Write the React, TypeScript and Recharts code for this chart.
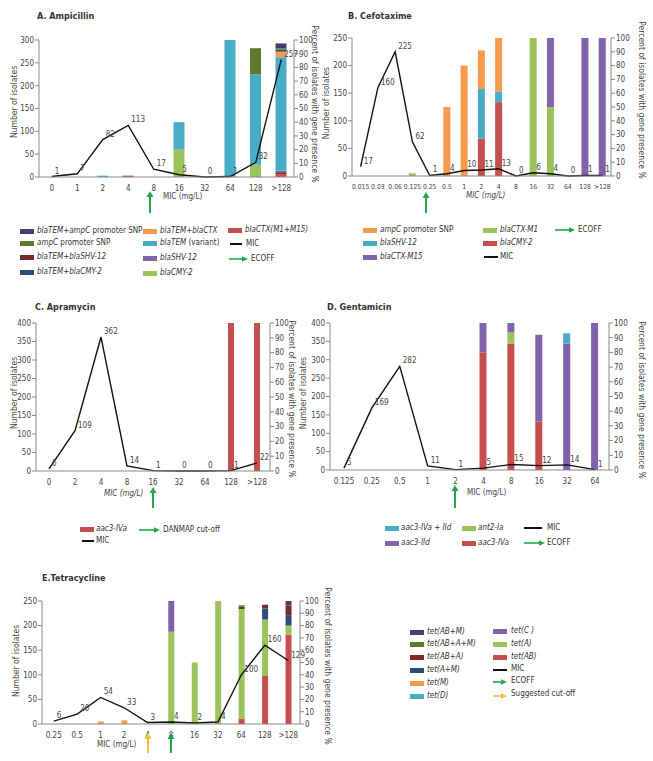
import React from 'react';
import { ComposedChart, Bar, Line, XAxis, YAxis, LabelList } from 'recharts';

const FONT = "'Liberation Sans Narrow', 'DejaVu Sans Condensed', 'Open Sans', sans-serif";
const TXT = '#444';
const GREEN = '#22a84a';
const YELLOW = '#f4c03c';

// colours shared by the gene groups
const C = {
  darkPurple: '#4b3c6b',
  olive: '#5f7a2c',
  darkRed: '#7a2a2d',
  darkBlue: '#2d4e78',
  orange: '#f49b4c',
  blue: '#47adc7',
  purple: '#8063aa',
  green: '#9cc25b',
  red: '#c64f4d',
};

// ---------- A. Ampicillin ----------
const ampCats = ['0', '1', '2', '4', '8', '16', '32', '64', '128', '>128'];
const ampMic = [1, 7, 82, 113, 17, 5, 0, 1, 32, 257];
const ampCTX = [0, 0, 0, 1, 0, 0, 0, 0, 0, 2];
const ampTEMSHV = [0, 0, 0, 0, 0, 0, 0, 0, 0, 1.5];
const ampSHV = [0, 0, 0, 0, 0, 0, 0, 0, 0, 1];
const ampCMY = [0, 0, 0, 0, 0, 20, 0, 0, 9, 0];
const ampTEMvar = [0, 0, 1, 0, 0, 20, 0, 100, 66, 83];
const ampTEMCTX = [0, 0, 0, 0, 0, 0, 0, 0, 0, 4];
const ampTEMCMY = [0, 0, 0, 0, 0, 0, 0, 0, 0, 1.5];
const ampSNP = [0, 0, 0, 0, 0, 0, 0, 0, 19, 1];
const ampTEMSNP = [0, 0, 0, 0, 0, 0, 0, 0, 0, 3.5];

// ---------- B. Cefotaxime ----------
const cefCats = ['0.015', '0.03', '0.06', '0.125', '0.25', '0.5', '1', '2', '4', '8', '16', '32', '64', '128', '>128'];
const cefMic = [17, 160, 225, 62, 1, 4, 10, 11, 13, 0, 6, 4, 0, 1, 1];
const cefCMY = [0, 0, 0, 0, 0, 0, 0, 27, 53.5, 0, 0, 0, 0, 0, 0];
const cefM1 = [0, 0, 0, 2, 0, 0, 0, 0, 0, 0, 100, 50, 0, 0, 0];
const cefM15 = [0, 0, 0, 0, 0, 0, 0, 0, 0, 0, 0, 50, 0, 100, 100];
const cefSHV = [0, 0, 0, 0, 0, 0, 0, 36, 7.5, 0, 0, 0, 0, 0, 0];
const cefSNP = [0, 0, 0, 0, 0, 50, 80, 28, 39, 0, 0, 0, 0, 0, 0];

// ---------- C. Apramycin ----------
const aprCats = ['0', '2', '4', '8', '16', '32', '64', '128', '>128'];
const aprMic = [6, 109, 362, 14, 1, 0, 0, 1, 22];
const aprIVa = [0, 0, 0, 0, 0, 0, 0, 100, 100];

// ---------- D. Gentamicin ----------
const genCats = ['0.125', '0.25', '0.5', '1', '2', '4', '8', '16', '32', '64'];
const genMic = [5, 169, 282, 11, 1, 5, 15, 12, 14, 1];
const genIVa = [0, 0, 0, 0, 0, 80, 86, 33, 0, 0];
const genAnt = [0, 0, 0, 0, 0, 0, 7.5, 0, 0, 0];
const genIId = [0, 0, 0, 0, 0, 20, 6.5, 59, 86, 100];
const genIVaIId = [0, 0, 0, 0, 0, 0, 0, 0, 7, 0];

// ---------- E. Tetracycline ----------
const tetCats = ['0.25', '0.5', '1', '2', '4', '8', '16', '32', '64', '128', '>128'];
const tetMic = [6, 20, 54, 33, 3, 4, 2, 4, 100, 160, 129];
const tetAB = [0, 0, 0, 0, 0, 0, 0, 0, 4.5, 39, 72.5];
const tetM = [0, 0, 2, 3, 0, 0, 0, 0, 0, 0, 0];
const tetA = [0, 0, 0, 0, 0, 75, 50, 100, 89, 46, 7.5];
const tetC = [0, 0, 0, 0, 0, 25, 0, 0, 0, 0, 0];
const tetD = [0, 0, 0, 0, 0, 0, 0, 0, 0, 0, 0];
const tetAM = [0, 0, 0, 0, 0, 0, 0, 0, 0, 9, 8.5];
const tetABA = [0, 0, 0, 0, 0, 0, 0, 0, 2, 3, 8];
const tetABAM = [0, 0, 0, 0, 0, 0, 0, 0, 1, 0, 0];
const tetABM = [0, 0, 0, 0, 0, 0, 0, 0, 0, 0, 3.5];

const pctTicks = [0, 10, 20, 30, 40, 50, 60, 70, 80, 90, 100];
const ticks250 = [0, 50, 100, 150, 200, 250];
const ticks300 = [0, 50, 100, 150, 200, 250, 300];
const ticks400 = [0, 50, 100, 150, 200, 250, 300, 350, 400];

type Series = { key: string; values: number[]; color: string };

const buildRows = (cats: string[], mic: number[], series: Series[]) =>
  cats.map((c, i) => {
    const row: Record<string, any> = { cat: c, mic: mic[i] };
    series.forEach((s) => (row[s.key] = s.values[i]));
    return row;
  });

const micLabel = (props: any) => {
  const { x, y, value } = props;
  return (
    <text x={x + 3} y={y - 3} fontSize={8} fill={TXT} fontFamily={FONT}>
      {value}
    </text>
  );
};

const LW = 30;
const RW = 26;
const XH = 16;
const MT = 6;

type PanelProps = {
  cats: string[];
  mic: number[];
  series: Series[];
  yMax: number;
  yTicks: number[];
  barSize: number;
  plot: { l: number; r: number; t: number; b: number };
  catFont?: number;
};

const Panel = ({ cats, mic, series, yMax, yTicks, barSize, plot, catFont = 8 }: PanelProps) => {
  const data = buildRows(cats, mic, series);
  const tick = { fontSize: 8, fill: TXT, fontFamily: FONT };
  return (
    <div style={{ position: 'absolute', left: plot.l - LW, top: plot.t - MT }}>
      <ComposedChart
        width={plot.r - plot.l + LW + RW}
        height={plot.b - plot.t + MT + XH}
        data={data}
        margin={{ top: MT, right: 0, left: 0, bottom: 0 }}
      >
        <XAxis
          dataKey="cat"
          interval={0}
          tickLine={false}
          axisLine={{ stroke: '#888' }}
          tick={{ ...tick, fontSize: catFont }}
          height={XH}
          tickMargin={2}
        />
        <YAxis
          yAxisId="n"
          domain={[0, yMax]}
          ticks={yTicks}
          width={LW}
          tickSize={4}
          tickMargin={1}
          axisLine={{ stroke: '#888' }}
          tickLine={{ stroke: '#888' }}
          tick={tick}
          interval={0}
        />
        <YAxis
          yAxisId="pct"
          orientation="right"
          domain={[0, 100]}
          ticks={pctTicks}
          width={RW}
          tickSize={4}
          tickMargin={1}
          axisLine={{ stroke: '#888' }}
          tickLine={{ stroke: '#888' }}
          tick={tick}
          interval={0}
        />
        {series.map((s) => (
          <Bar
            key={s.key}
            yAxisId="pct"
            dataKey={s.key}
            stackId="g"
            fill={s.color}
            barSize={barSize}
            isAnimationActive={false}
          />
        ))}
        <Line
          yAxisId="n"
          dataKey="mic"
          type="linear"
          stroke="#111"
          strokeWidth={1.4}
          dot={false}
          isAnimationActive={false}
        >
          <LabelList dataKey="mic" content={micLabel} />
        </Line>
      </ComposedChart>
    </div>
  );
};

const UpArrow = ({ x, tip, bottom, color }: { x: number; tip: number; bottom: number; color: string }) => (
  <g>
    <line x1={x} y1={bottom} x2={x} y2={tip + 5} stroke={color} strokeWidth={2} />
    <polygon points={`${x},${tip} ${x - 3.5},${tip + 6} ${x + 3.5},${tip + 6}`} fill={color} />
  </g>
);

const RightArrow = ({ x1, x2, y, color }: { x1: number; x2: number; y: number; color: string }) => (
  <g>
    <line x1={x1} y1={y} x2={x2 - 5} y2={y} stroke={color} strokeWidth={1.6} />
    <polygon points={`${x2},${y} ${x2 - 6},${y - 2.8} ${x2 - 6},${y + 2.8}`} fill={color} />
  </g>
);

const Swatch = ({ x, y, color }: { x: number; y: number; color: string }) => (
  <div style={{ position: 'absolute', left: x, top: y - 2.5, width: 14, height: 5, background: color }} />
);

const LineSwatch = ({ x, y, w = 12 }: { x: number; y: number; w?: number }) => (
  <div style={{ position: 'absolute', left: x, top: y - 0.75, width: w, height: 1.5, background: '#111' }} />
);

const Txt = ({ x, y, children }: { x: number; y: number; children: React.ReactNode }) => (
  <div
    style={{
      position: 'absolute',
      left: x,
      top: y - 5,
      fontSize: 8,
      lineHeight: '10px',
      color: '#333',
      whiteSpace: 'nowrap',
      fontFamily: FONT,
    }}
  >
    {children}
  </div>
);

const VText = ({ x, y, text, up }: { x: number; y: number; text: string; up?: boolean }) => (
  <text
    x={x}
    y={y}
    transform={`rotate(${up ? -90 : 90} ${x} ${y})`}
    textAnchor="middle"
    dominantBaseline="middle"
    fontSize={8.5}
    fill={TXT}
    fontFamily={FONT}
  >
    {text}
  </text>
);

const Title = ({ x, y, text }: { x: number; y: number; text: string }) => (
  <text x={x} y={y} fontSize={9} fontWeight="bold" fill="#333" fontFamily={FONT}>
    {text}
  </text>
);

const MicTitle = ({ x, y, italic }: { x: number; y: number; italic?: boolean }) => (
  <text x={x} y={y} fontSize={8} fill={TXT} fontFamily={FONT} fontStyle={italic ? 'italic' : 'normal'}>
    MIC (mg/L)
  </text>
);

const PCT = 'Percent of isolates with gene presence %';
const NUM = 'Number of isolates';

export default function App() {
  const ampSeries: Series[] = [
    { key: 'ctx', values: ampCTX, color: C.red },
    { key: 'temshv', values: ampTEMSHV, color: C.darkRed },
    { key: 'shv', values: ampSHV, color: C.purple },
    { key: 'cmy', values: ampCMY, color: C.green },
    { key: 'temvar', values: ampTEMvar, color: C.blue },
    { key: 'temctx', values: ampTEMCTX, color: C.orange },
    { key: 'temcmy', values: ampTEMCMY, color: C.darkBlue },
    { key: 'snp', values: ampSNP, color: C.olive },
    { key: 'temsnp', values: ampTEMSNP, color: C.darkPurple },
  ];
  const cefSeries: Series[] = [
    { key: 'cmy', values: cefCMY, color: C.red },
    { key: 'm1', values: cefM1, color: C.green },
    { key: 'm15', values: cefM15, color: C.purple },
    { key: 'shv', values: cefSHV, color: C.blue },
    { key: 'snp', values: cefSNP, color: C.orange },
  ];
  const aprSeries: Series[] = [{ key: 'iva', values: aprIVa, color: C.red }];
  const genSeries: Series[] = [
    { key: 'iva', values: genIVa, color: C.red },
    { key: 'ant', values: genAnt, color: C.green },
    { key: 'iid', values: genIId, color: C.purple },
    { key: 'ivaiid', values: genIVaIId, color: C.blue },
  ];
  const tetSeries: Series[] = [
    { key: 'ab', values: tetAB, color: C.red },
    { key: 'm', values: tetM, color: C.orange },
    { key: 'a', values: tetA, color: C.green },
    { key: 'c', values: tetC, color: C.purple },
    { key: 'd', values: tetD, color: C.blue },
    { key: 'am', values: tetAM, color: C.darkBlue },
    { key: 'aba', values: tetABA, color: C.darkRed },
    { key: 'abam', values: tetABAM, color: C.olive },
    { key: 'abm', values: tetABM, color: C.darkPurple },
  ];

  return (
    <div
      style={{
        position: 'absolute',
        left: 0,
        top: 0,
        width: 653,
        height: 761,
        background: '#fff',
        fontFamily: FONT,
        overflow: 'hidden',
      }}
    >
      <Panel cats={ampCats} mic={ampMic} series={ampSeries} yMax={300} yTicks={ticks300} barSize={11} plot={{ l: 39, r: 294, t: 40, b: 177 }} />
      <Panel cats={cefCats} mic={cefMic} series={cefSeries} yMax={250} yTicks={ticks250} barSize={7} plot={{ l: 352, r: 611, t: 38, b: 176 }} catFont={6.8} />
      <Panel cats={aprCats} mic={aprMic} series={aprSeries} yMax={400} yTicks={ticks400} barSize={6} plot={{ l: 36, r: 270, t: 323, b: 471 }} />
      <Panel cats={genCats} mic={genMic} series={genSeries} yMax={400} yTicks={ticks400} barSize={7} plot={{ l: 330, r: 609, t: 323, b: 470 }} />
      <Panel cats={tetCats} mic={tetMic} series={tetSeries} yMax={250} yTicks={ticks250} barSize={6} plot={{ l: 42, r: 300, t: 601, b: 724 }} />

      <svg width={653} height={761} style={{ position: 'absolute', left: 0, top: 0, pointerEvents: 'none' }}>
        <Title x={37} y={19} text="A. Ampicillin" />
        <Title x={348} y={19} text="B. Cefotaxime" />
        <Title x={35} y={310} text="C. Apramycin" />
        <Title x={327} y={310} text="D. Gentamicin" />
        <Title x={42} y={581} text="E.Tetracycline" />

        <VText x={14} y={102} text={NUM} up />
        <VText x={326} y={103} text={NUM} up />
        <VText x={14} y={393} text={NUM} up />
        <VText x={303} y={393} text={NUM} up />
        <VText x={16} y={661} text={NUM} up />

        <VText x={314} y={104} text={PCT} />
        <VText x={641} y={100} text={PCT} />
        <VText x={291} y={399} text={PCT} />
        <VText x={641} y={400} text={PCT} />
        <VText x={327} y={666} text={PCT} />

        <MicTitle x={163} y={199} />
        <MicTitle x={466} y={198} italic />
        <MicTitle x={104} y={496} italic />
        <MicTitle x={467} y={495} />
        <MicTitle x={97} y={747} />

        <UpArrow x={150} tip={191} bottom={213} color={GREEN} />
        <UpArrow x={426} tip={192} bottom={213} color={GREEN} />
        <UpArrow x={153} tip={487} bottom={508} color={GREEN} />
        <UpArrow x={455} tip={485} bottom={508} color={GREEN} />
        <UpArrow x={148} tip={733} bottom={753} color={YELLOW} />
        <UpArrow x={171} tip={733} bottom={753} color={GREEN} />

        {/* legend arrows */}
        <RightArrow x1={229} x2={248} y={259} color={GREEN} />
        <RightArrow x1={555} x2={575} y={230} color={GREEN} />
        <RightArrow x1={139} x2={160} y={530} color={GREEN} />
        <RightArrow x1={524} x2={545} y={543} color={GREEN} />
        <RightArrow x1={493} x2={507} y={682} color={GREEN} />
        <RightArrow x1={493} x2={507} y={696} color={YELLOW} />
      </svg>

      {/* A legend */}
      <Swatch x={20} y={231} color={C.darkPurple} />
      <Txt x={37} y={231}><i>blaTEM+ampC</i> promoter SNP</Txt>
      <Swatch x={20} y={243} color={C.olive} />
      <Txt x={37} y={243}><i>ampC</i> promoter SNP</Txt>
      <Swatch x={20} y={257} color={C.darkRed} />
      <Txt x={37} y={257}><i>blaTEM+blaSHV-12</i></Txt>
      <Swatch x={20} y={272} color={C.darkBlue} />
      <Txt x={37} y={272}><i>blaTEM+blaCMY-2</i></Txt>
      <Swatch x={143} y={231} color={C.orange} />
      <Txt x={160} y={231}><i>blaTEM+blaCTX</i></Txt>
      <Swatch x={143} y={243} color={C.blue} />
      <Txt x={160} y={243}><i>blaTEM</i> (variant)</Txt>
      <Swatch x={143} y={258} color={C.purple} />
      <Txt x={160} y={258}><i>blaSHV-12</i></Txt>
      <Swatch x={143} y={273} color={C.green} />
      <Txt x={160} y={273}><i>blaCMY-2</i></Txt>
      <Swatch x={228} y={230} color={C.red} />
      <Txt x={245} y={230}><i>blaCTX(M1+M15)</i></Txt>
      <LineSwatch x={230} y={244} />
      <Txt x={246} y={244}>MIC</Txt>
      <Txt x={251} y={259}>ECOFF</Txt>

      {/* B legend */}
      <Swatch x={363} y={230} color={C.orange} />
      <Txt x={380} y={230}><i>ampC</i> promoter SNP</Txt>
      <Swatch x={363} y={243} color={C.blue} />
      <Txt x={380} y={243}><i>blaSHV-12</i></Txt>
      <Swatch x={363} y={257} color={C.purple} />
      <Txt x={380} y={257}><i>blaCTX-M15</i></Txt>
      <Swatch x={483} y={230} color={C.green} />
      <Txt x={500} y={230}><i>blaCTX-M1</i></Txt>
      <Swatch x={483} y={243} color={C.red} />
      <Txt x={500} y={243}><i>blaCMY-2</i></Txt>
      <LineSwatch x={484} y={257} w={14} />
      <Txt x={500} y={257}>MIC</Txt>
      <Txt x={578} y={230}>ECOFF</Txt>

      {/* C legend */}
      <Swatch x={80} y={529} color={C.red} />
      <Txt x={96} y={529}><i>aac3-IVa</i></Txt>
      <LineSwatch x={82} y={541} />
      <Txt x={96} y={541}>MIC</Txt>
      <Txt x={163} y={530}>DANMAP cut-off</Txt>

      {/* D legend */}
      <Swatch x={385} y={528} color={C.blue} />
      <Txt x={401} y={528}><i>aac3-IVa + IId</i></Txt>
      <Swatch x={385} y={543} color={C.purple} />
      <Txt x={401} y={543}><i>aac3-IId</i></Txt>
      <Swatch x={462} y={528} color={C.green} />
      <Txt x={478} y={528}><i>ant2-Ia</i></Txt>
      <Swatch x={462} y={543} color={C.red} />
      <Txt x={478} y={543}><i>aac3-IVa</i></Txt>
      <LineSwatch x={524} y={528} w={18} />
      <Txt x={547} y={528}>MIC</Txt>
      <Txt x={547} y={543}>ECOFF</Txt>

      {/* E legend */}
      <Swatch x={410} y={632} color={C.darkPurple} />
      <Txt x={427} y={632}><i>tet(AB+M)</i></Txt>
      <Swatch x={410} y={644} color={C.olive} />
      <Txt x={427} y={644}><i>tet(AB+A+M)</i></Txt>
      <Swatch x={410} y={657} color={C.darkRed} />
      <Txt x={427} y={657}><i>tet(AB+A)</i></Txt>
      <Swatch x={410} y={670} color={C.darkBlue} />
      <Txt x={427} y={670}><i>tet(A+M)</i></Txt>
      <Swatch x={410} y={683} color={C.orange} />
      <Txt x={427} y={683}><i>tet(M)</i></Txt>
      <Swatch x={410} y={696} color={C.blue} />
      <Txt x={427} y={696}><i>tet(D)</i></Txt>
      <Swatch x={493} y={631} color={C.purple} />
      <Txt x={511} y={631}><i>tet(C )</i></Txt>
      <Swatch x={493} y={644} color={C.green} />
      <Txt x={511} y={644}><i>tet(A)</i></Txt>
      <Swatch x={493} y={657} color={C.red} />
      <Txt x={511} y={657}><i>tet(AB)</i></Txt>
      <LineSwatch x={493} y={670} w={14} />
      <Txt x={511} y={669}>MIC</Txt>
      <Txt x={511} y={681}>ECOFF</Txt>
      <Txt x={511} y={694}>Suggested cut-off</Txt>
    </div>
  );
}
